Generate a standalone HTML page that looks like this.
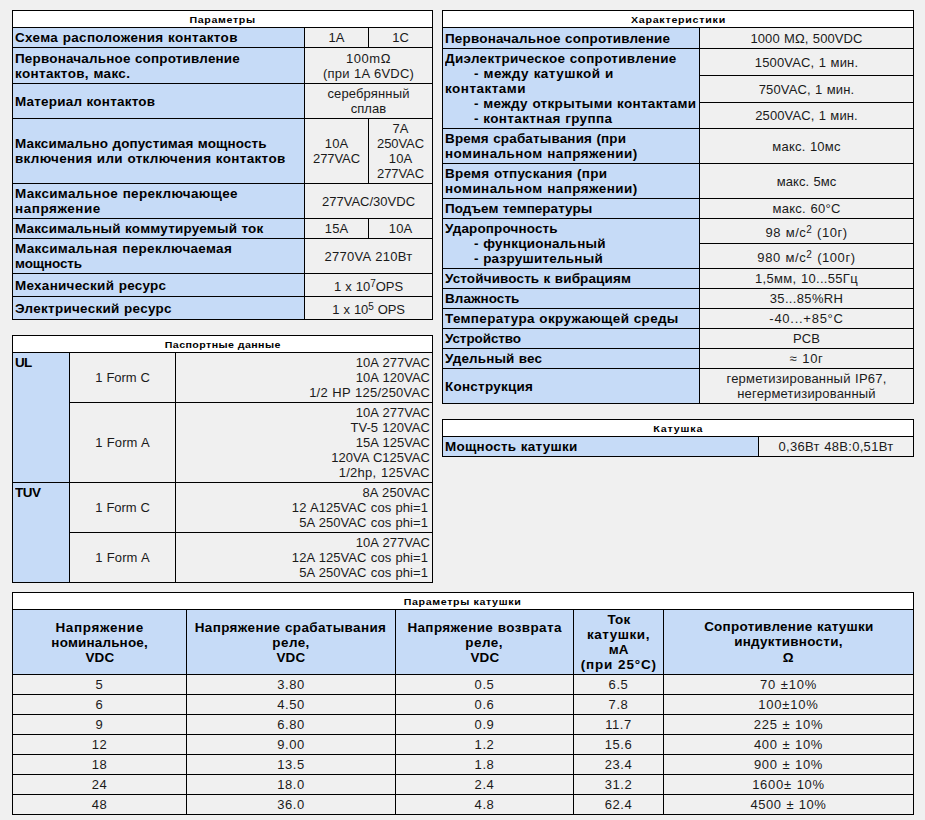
<!DOCTYPE html>
<html lang="ru"><head><meta charset="utf-8"><title>Relay parameters</title>
<style>
html,body{margin:0;padding:0;background:#f0f0f0;}
body{width:925px;height:820px;background:#f0f0f0;position:relative;overflow:hidden;font-family:"Liberation Sans",sans-serif;color:#000;}
.c{position:absolute;}
.t{position:absolute;white-space:pre;height:15px;line-height:15px;font-size:13px;}
.r{letter-spacing:0.25px;word-spacing:0.6px;color:#1a1a1a;}
.b{font-weight:bold;letter-spacing:0.45px;word-spacing:0.4px;}
.h{font-weight:bold;font-size:9.5px;height:12px;line-height:12px;letter-spacing:0.5px;}
 .h span{transform:scaleX(1.12);}
.t span{display:inline-block;}
.b span{transform:scaleX(1.035);}
.al{text-align:left;}.ac{text-align:center;}.ar{text-align:right;}
.al span{transform-origin:0 50%;}.ac span{transform-origin:50% 50%;}.ar span{transform-origin:100% 50%;}
sup{font-size:10px;line-height:0;vertical-align:baseline;position:relative;top:-4px;}
</style></head><body>
<div class="c" style="left:12px;top:10px;width:421px;height:310px;background:#000000"></div>
<div class="c" style="left:13px;top:11px;width:419px;height:16px;background:#ffffff"></div>
<div class="c" style="left:13px;top:28px;width:291px;height:19px;background:#c6dbf7"></div>
<div class="c" style="left:305px;top:28px;width:63px;height:19px;background:#f0f0f0"></div>
<div class="c" style="left:369px;top:28px;width:63px;height:19px;background:#f0f0f0"></div>
<div class="c" style="left:13px;top:48px;width:291px;height:35px;background:#c6dbf7"></div>
<div class="c" style="left:305px;top:48px;width:127px;height:35px;background:#f0f0f0"></div>
<div class="c" style="left:13px;top:84px;width:291px;height:34px;background:#c6dbf7"></div>
<div class="c" style="left:305px;top:84px;width:127px;height:34px;background:#f0f0f0"></div>
<div class="c" style="left:13px;top:119px;width:291px;height:64px;background:#c6dbf7"></div>
<div class="c" style="left:305px;top:119px;width:63px;height:64px;background:#f0f0f0"></div>
<div class="c" style="left:369px;top:119px;width:63px;height:64px;background:#f0f0f0"></div>
<div class="c" style="left:13px;top:184px;width:291px;height:34px;background:#c6dbf7"></div>
<div class="c" style="left:305px;top:184px;width:127px;height:34px;background:#f0f0f0"></div>
<div class="c" style="left:13px;top:219px;width:291px;height:19px;background:#c6dbf7"></div>
<div class="c" style="left:305px;top:219px;width:63px;height:19px;background:#f0f0f0"></div>
<div class="c" style="left:369px;top:219px;width:63px;height:19px;background:#f0f0f0"></div>
<div class="c" style="left:13px;top:239px;width:291px;height:34px;background:#c6dbf7"></div>
<div class="c" style="left:305px;top:239px;width:127px;height:34px;background:#f0f0f0"></div>
<div class="c" style="left:13px;top:274px;width:291px;height:22px;background:#c6dbf7"></div>
<div class="c" style="left:305px;top:274px;width:127px;height:22px;background:#f0f0f0"></div>
<div class="c" style="left:13px;top:297px;width:291px;height:22px;background:#c6dbf7"></div>
<div class="c" style="left:305px;top:297px;width:127px;height:22px;background:#f0f0f0"></div>
<div class="c" style="left:442px;top:10px;width:472px;height:394px;background:#000000"></div>
<div class="c" style="left:443px;top:11px;width:470px;height:16px;background:#ffffff"></div>
<div class="c" style="left:443px;top:28px;width:256px;height:20px;background:#c6dbf7"></div>
<div class="c" style="left:700px;top:28px;width:213px;height:20px;background:#f0f0f0"></div>
<div class="c" style="left:443px;top:49px;width:256px;height:79px;background:#c6dbf7"></div>
<div class="c" style="left:700px;top:49px;width:213px;height:26px;background:#f0f0f0"></div>
<div class="c" style="left:700px;top:76px;width:213px;height:26px;background:#f0f0f0"></div>
<div class="c" style="left:700px;top:103px;width:213px;height:25px;background:#f0f0f0"></div>
<div class="c" style="left:443px;top:129px;width:256px;height:34px;background:#c6dbf7"></div>
<div class="c" style="left:700px;top:129px;width:213px;height:34px;background:#f0f0f0"></div>
<div class="c" style="left:443px;top:164px;width:256px;height:34px;background:#c6dbf7"></div>
<div class="c" style="left:700px;top:164px;width:213px;height:34px;background:#f0f0f0"></div>
<div class="c" style="left:443px;top:199px;width:256px;height:19px;background:#c6dbf7"></div>
<div class="c" style="left:700px;top:199px;width:213px;height:19px;background:#f0f0f0"></div>
<div class="c" style="left:443px;top:219px;width:256px;height:49px;background:#c6dbf7"></div>
<div class="c" style="left:700px;top:219px;width:213px;height:24px;background:#f0f0f0"></div>
<div class="c" style="left:700px;top:244px;width:213px;height:24px;background:#f0f0f0"></div>
<div class="c" style="left:443px;top:269px;width:256px;height:19px;background:#c6dbf7"></div>
<div class="c" style="left:700px;top:269px;width:213px;height:19px;background:#f0f0f0"></div>
<div class="c" style="left:443px;top:289px;width:256px;height:19px;background:#c6dbf7"></div>
<div class="c" style="left:700px;top:289px;width:213px;height:19px;background:#f0f0f0"></div>
<div class="c" style="left:443px;top:309px;width:256px;height:19px;background:#c6dbf7"></div>
<div class="c" style="left:700px;top:309px;width:213px;height:19px;background:#f0f0f0"></div>
<div class="c" style="left:443px;top:329px;width:256px;height:19px;background:#c6dbf7"></div>
<div class="c" style="left:700px;top:329px;width:213px;height:19px;background:#f0f0f0"></div>
<div class="c" style="left:443px;top:349px;width:256px;height:19px;background:#c6dbf7"></div>
<div class="c" style="left:700px;top:349px;width:213px;height:19px;background:#f0f0f0"></div>
<div class="c" style="left:443px;top:369px;width:256px;height:34px;background:#c6dbf7"></div>
<div class="c" style="left:700px;top:369px;width:213px;height:34px;background:#f0f0f0"></div>
<div class="c" style="left:442px;top:419px;width:472px;height:38px;background:#000000"></div>
<div class="c" style="left:443px;top:420px;width:470px;height:16px;background:#ffffff"></div>
<div class="c" style="left:443px;top:437px;width:315px;height:19px;background:#c6dbf7"></div>
<div class="c" style="left:759px;top:437px;width:154px;height:19px;background:#f0f0f0"></div>
<div class="c" style="left:12px;top:335px;width:421px;height:248px;background:#000000"></div>
<div class="c" style="left:13px;top:336px;width:419px;height:16px;background:#ffffff"></div>
<div class="c" style="left:13px;top:353px;width:56px;height:129px;background:#c6dbf7"></div>
<div class="c" style="left:13px;top:483px;width:56px;height:99px;background:#c6dbf7"></div>
<div class="c" style="left:70px;top:353px;width:105px;height:49px;background:#f0f0f0"></div>
<div class="c" style="left:176px;top:353px;width:256px;height:49px;background:#f0f0f0"></div>
<div class="c" style="left:70px;top:403px;width:105px;height:79px;background:#f0f0f0"></div>
<div class="c" style="left:176px;top:403px;width:256px;height:79px;background:#f0f0f0"></div>
<div class="c" style="left:70px;top:483px;width:105px;height:49px;background:#f0f0f0"></div>
<div class="c" style="left:176px;top:483px;width:256px;height:49px;background:#f0f0f0"></div>
<div class="c" style="left:70px;top:533px;width:105px;height:49px;background:#f0f0f0"></div>
<div class="c" style="left:176px;top:533px;width:256px;height:49px;background:#f0f0f0"></div>
<div class="c" style="left:12px;top:592px;width:902px;height:223px;background:#000000"></div>
<div class="c" style="left:13px;top:593px;width:900px;height:16px;background:#ffffff"></div>
<div class="c" style="left:13px;top:610px;width:173px;height:64px;background:#c6dbf7"></div>
<div class="c" style="left:187px;top:610px;width:208px;height:64px;background:#c6dbf7"></div>
<div class="c" style="left:396px;top:610px;width:177px;height:64px;background:#c6dbf7"></div>
<div class="c" style="left:574px;top:610px;width:89px;height:64px;background:#c6dbf7"></div>
<div class="c" style="left:664px;top:610px;width:249px;height:64px;background:#c6dbf7"></div>
<div class="c" style="left:13px;top:675px;width:173px;height:19px;background:#f0f0f0"></div>
<div class="c" style="left:187px;top:675px;width:208px;height:19px;background:#f0f0f0"></div>
<div class="c" style="left:396px;top:675px;width:177px;height:19px;background:#f0f0f0"></div>
<div class="c" style="left:574px;top:675px;width:89px;height:19px;background:#f0f0f0"></div>
<div class="c" style="left:664px;top:675px;width:249px;height:19px;background:#f0f0f0"></div>
<div class="c" style="left:13px;top:695px;width:173px;height:19px;background:#f0f0f0"></div>
<div class="c" style="left:187px;top:695px;width:208px;height:19px;background:#f0f0f0"></div>
<div class="c" style="left:396px;top:695px;width:177px;height:19px;background:#f0f0f0"></div>
<div class="c" style="left:574px;top:695px;width:89px;height:19px;background:#f0f0f0"></div>
<div class="c" style="left:664px;top:695px;width:249px;height:19px;background:#f0f0f0"></div>
<div class="c" style="left:13px;top:715px;width:173px;height:19px;background:#f0f0f0"></div>
<div class="c" style="left:187px;top:715px;width:208px;height:19px;background:#f0f0f0"></div>
<div class="c" style="left:396px;top:715px;width:177px;height:19px;background:#f0f0f0"></div>
<div class="c" style="left:574px;top:715px;width:89px;height:19px;background:#f0f0f0"></div>
<div class="c" style="left:664px;top:715px;width:249px;height:19px;background:#f0f0f0"></div>
<div class="c" style="left:13px;top:735px;width:173px;height:19px;background:#f0f0f0"></div>
<div class="c" style="left:187px;top:735px;width:208px;height:19px;background:#f0f0f0"></div>
<div class="c" style="left:396px;top:735px;width:177px;height:19px;background:#f0f0f0"></div>
<div class="c" style="left:574px;top:735px;width:89px;height:19px;background:#f0f0f0"></div>
<div class="c" style="left:664px;top:735px;width:249px;height:19px;background:#f0f0f0"></div>
<div class="c" style="left:13px;top:755px;width:173px;height:19px;background:#f0f0f0"></div>
<div class="c" style="left:187px;top:755px;width:208px;height:19px;background:#f0f0f0"></div>
<div class="c" style="left:396px;top:755px;width:177px;height:19px;background:#f0f0f0"></div>
<div class="c" style="left:574px;top:755px;width:89px;height:19px;background:#f0f0f0"></div>
<div class="c" style="left:664px;top:755px;width:249px;height:19px;background:#f0f0f0"></div>
<div class="c" style="left:13px;top:775px;width:173px;height:19px;background:#f0f0f0"></div>
<div class="c" style="left:187px;top:775px;width:208px;height:19px;background:#f0f0f0"></div>
<div class="c" style="left:396px;top:775px;width:177px;height:19px;background:#f0f0f0"></div>
<div class="c" style="left:574px;top:775px;width:89px;height:19px;background:#f0f0f0"></div>
<div class="c" style="left:664px;top:775px;width:249px;height:19px;background:#f0f0f0"></div>
<div class="c" style="left:13px;top:795px;width:173px;height:19px;background:#f0f0f0"></div>
<div class="c" style="left:187px;top:795px;width:208px;height:19px;background:#f0f0f0"></div>
<div class="c" style="left:396px;top:795px;width:177px;height:19px;background:#f0f0f0"></div>
<div class="c" style="left:574px;top:795px;width:89px;height:19px;background:#f0f0f0"></div>
<div class="c" style="left:664px;top:795px;width:249px;height:19px;background:#f0f0f0"></div>
<div id="t0" class="t h ac" style="left:15px;top:14px;width:415px;letter-spacing:0.582px;"><span>Параметры</span></div>
<div id="t1" class="t b al" style="left:15px;top:30px;width:287px;letter-spacing:0.335px;"><span>Схема расположения контактов</span></div>
<div id="t2" class="t r ac" style="left:307px;top:30px;width:59px;letter-spacing:0.05px;"><span>1A</span></div>
<div id="t3" class="t r ac" style="left:371px;top:30px;width:59px;letter-spacing:0.05px;"><span>1C</span></div>
<div id="t4" class="t b al" style="left:15px;top:51px;width:287px;letter-spacing:0.184px;"><span>Первоначальное сопротивление</span></div>
<div id="t5" class="t b al" style="left:15px;top:66px;width:287px;letter-spacing:0.346px;"><span>контактов, макс.</span></div>
<div id="t6" class="t r ac" style="left:307px;top:51px;width:123px;letter-spacing:0.530px;"><span>100mΩ</span></div>
<div id="t7" class="t r ac" style="left:307px;top:66px;width:123px;letter-spacing:0.198px;"><span>(при 1A 6VDC)</span></div>
<div id="t8" class="t b al" style="left:15px;top:94px;width:287px;letter-spacing:0.214px;"><span>Материал контактов</span></div>
<div id="t9" class="t r ac" style="left:307px;top:86px;width:123px;letter-spacing:0.138px;"><span>серебрянный</span></div>
<div id="t10" class="t r ac" style="left:307px;top:101px;width:123px;letter-spacing:0.050px;"><span>сплав</span></div>
<div id="t11" class="t b al" style="left:15px;top:136px;width:287px;letter-spacing:0.140px;"><span>Максимально допустимая мощность</span></div>
<div id="t12" class="t b al" style="left:15px;top:151px;width:287px;letter-spacing:0.333px;"><span>включения или отключения контактов</span></div>
<div id="t13" class="t r ac" style="left:307px;top:136px;width:59px;letter-spacing:0.05px;"><span>10A</span></div>
<div id="t14" class="t r ac" style="left:307px;top:151px;width:59px;letter-spacing:-0.102px;"><span>277VAC</span></div>
<div id="t15" class="t r ac" style="left:371px;top:121px;width:59px;letter-spacing:0.05px;"><span>7A</span></div>
<div id="t16" class="t r ac" style="left:371px;top:136px;width:59px;letter-spacing:-0.102px;"><span>250VAC</span></div>
<div id="t17" class="t r ac" style="left:371px;top:151px;width:59px;letter-spacing:0.05px;"><span>10A</span></div>
<div id="t18" class="t r ac" style="left:371px;top:166px;width:59px;letter-spacing:-0.102px;"><span>277VAC</span></div>
<div id="t19" class="t b al" style="left:15px;top:186px;width:287px;letter-spacing:0.328px;"><span>Максимальное переключающее</span></div>
<div id="t20" class="t b al" style="left:15px;top:201px;width:287px;letter-spacing:0.536px;"><span>напряжение</span></div>
<div id="t21" class="t r ac" style="left:307px;top:194px;width:123px;letter-spacing:0.011px;"><span>277VAC/30VDC</span></div>
<div id="t22" class="t b al" style="left:15px;top:221px;width:287px;letter-spacing:0.209px;"><span>Максимальный коммутируемый ток</span></div>
<div id="t23" class="t r ac" style="left:307px;top:221px;width:59px;letter-spacing:0.05px;"><span>15A</span></div>
<div id="t24" class="t r ac" style="left:371px;top:221px;width:59px;letter-spacing:0.05px;"><span>10A</span></div>
<div id="t25" class="t b al" style="left:15px;top:241px;width:287px;letter-spacing:0.328px;"><span>Максимальная переключаемая</span></div>
<div id="t26" class="t b al" style="left:15px;top:256px;width:287px;letter-spacing:-0.102px;"><span>мощность</span></div>
<div id="t27" class="t r ac" style="left:307px;top:249px;width:123px;letter-spacing:0.290px;"><span>2770VA 210Вт</span></div>
<div id="t28" class="t b al" style="left:15px;top:278px;width:287px;letter-spacing:0.278px;"><span>Механический ресурс</span></div>
<div id="t29" class="t r ac" style="left:307px;top:279px;width:123px;letter-spacing:-0.051px;"><span>1 x 10<sup>7</sup>OPS</span></div>
<div id="t30" class="t b al" style="left:15px;top:301px;width:287px;letter-spacing:0.287px;"><span>Электрический ресурс</span></div>
<div id="t31" class="t r ac" style="left:307px;top:302px;width:123px;letter-spacing:-0.118px;"><span>1 x 10<sup>5</sup> OPS</span></div>
<div id="t32" class="t h ac" style="left:445px;top:14px;width:466px;letter-spacing:0.673px;"><span>Характеристики</span></div>
<div id="t33" class="t b al" style="left:445px;top:31px;width:252px;letter-spacing:0.192px;"><span>Первоначальное сопротивление</span></div>
<div id="t34" class="t r ac" style="left:702px;top:31px;width:209px;letter-spacing:0.105px;"><span>1000 MΩ, 500VDC</span></div>
<div id="t35" class="t b al" style="left:445px;top:51px;width:252px;letter-spacing:0.312px;"><span>Диэлектрическое сопротивление</span></div>
<div id="t36" class="t b al" style="left:474px;top:66px;width:223px;letter-spacing:0.468px;"><span>- между катушкой и</span></div>
<div id="t37" class="t b al" style="left:445px;top:81px;width:252px;letter-spacing:0.478px;"><span>контактами</span></div>
<div id="t38" class="t b al" style="left:474px;top:96px;width:223px;letter-spacing:0.317px;"><span>- между открытыми контактами</span></div>
<div id="t39" class="t b al" style="left:474px;top:111px;width:223px;letter-spacing:0.350px;"><span>- контактная группа</span></div>
<div id="t40" class="t r ac" style="left:702px;top:55px;width:209px;letter-spacing:0.167px;"><span>1500VAC, 1 мин.</span></div>
<div id="t41" class="t r ac" style="left:702px;top:82px;width:209px;letter-spacing:0.126px;"><span>750VAC, 1 мин.</span></div>
<div id="t42" class="t r ac" style="left:702px;top:108px;width:209px;letter-spacing:0.110px;"><span>2500VAC, 1 мин.</span></div>
<div id="t43" class="t b al" style="left:445px;top:131px;width:252px;letter-spacing:0.162px;"><span>Время срабатывания (при</span></div>
<div id="t44" class="t b al" style="left:445px;top:146px;width:252px;letter-spacing:0.415px;"><span>номинальном напряжении)</span></div>
<div id="t45" class="t r ac" style="left:702px;top:139px;width:209px;letter-spacing:0.203px;"><span>макс. 10мс</span></div>
<div id="t46" class="t b al" style="left:445px;top:166px;width:252px;letter-spacing:0.283px;"><span>Время отпускания (при</span></div>
<div id="t47" class="t b al" style="left:445px;top:181px;width:252px;letter-spacing:0.415px;"><span>номинальном напряжении)</span></div>
<div id="t48" class="t r ac" style="left:702px;top:174px;width:209px;letter-spacing:0.050px;"><span>макс. 5мс</span></div>
<div id="t49" class="t b al" style="left:445px;top:201px;width:252px;letter-spacing:0.047px;"><span>Подъем температуры</span></div>
<div id="t50" class="t r ac" style="left:702px;top:201px;width:209px;letter-spacing:0.271px;"><span>макс. 60°C</span></div>
<div id="t51" class="t b al" style="left:445px;top:221px;width:252px;letter-spacing:0.153px;"><span>Ударопрочность</span></div>
<div id="t52" class="t b al" style="left:474px;top:236px;width:223px;letter-spacing:0.252px;"><span>- функциональный</span></div>
<div id="t53" class="t b al" style="left:474px;top:251px;width:223px;letter-spacing:0.243px;"><span>- разрушительный</span></div>
<div id="t54" class="t r ac" style="left:702px;top:225px;width:209px;letter-spacing:0.516px;"><span>98 м/с<sup>2</sup> (10г)</span></div>
<div id="t55" class="t r ac" style="left:702px;top:250px;width:209px;letter-spacing:0.562px;"><span>980 м/с<sup>2</sup> (100г)</span></div>
<div id="t56" class="t b al" style="left:445px;top:271px;width:252px;letter-spacing:0.147px;"><span>Устойчивость к вибрациям</span></div>
<div id="t57" class="t r ac" style="left:702px;top:271px;width:209px;letter-spacing:0.303px;"><span>1,5мм, 10...55Гц</span></div>
<div id="t58" class="t b al" style="left:445px;top:291px;width:252px;letter-spacing:0.063px;"><span>Влажность</span></div>
<div id="t59" class="t r ac" style="left:702px;top:291px;width:209px;letter-spacing:0.339px;"><span>35...85%RH</span></div>
<div id="t60" class="t b al" style="left:445px;top:311px;width:252px;letter-spacing:0.335px;"><span>Температура окружающей среды</span></div>
<div id="t61" class="t r ac" style="left:702px;top:311px;width:209px;letter-spacing:0.730px;"><span>-40...+85°C</span></div>
<div id="t62" class="t b al" style="left:445px;top:331px;width:252px;letter-spacing:-0.065px;"><span>Устройство</span></div>
<div id="t63" class="t r ac" style="left:702px;top:331px;width:209px;letter-spacing:0.05px;"><span>PCB</span></div>
<div id="t64" class="t b al" style="left:445px;top:351px;width:252px;letter-spacing:0.155px;"><span>Удельный вес</span></div>
<div id="t65" class="t r ac" style="left:702px;top:351px;width:209px;letter-spacing:0.730px;"><span>≈ 10г</span></div>
<div id="t66" class="t b al" style="left:445px;top:379px;width:252px;letter-spacing:0.252px;"><span>Конструкция</span></div>
<div id="t67" class="t r ac" style="left:702px;top:371px;width:209px;letter-spacing:0.218px;"><span>герметизированный IP67,</span></div>
<div id="t68" class="t r ac" style="left:702px;top:386px;width:209px;letter-spacing:0.197px;"><span>негерметизированный</span></div>
<div id="t69" class="t h ac" style="left:445px;top:423px;width:466px;letter-spacing:0.740px;"><span>Катушка</span></div>
<div id="t70" class="t b al" style="left:445px;top:439px;width:311px;letter-spacing:0.252px;"><span>Мощность катушки</span></div>
<div id="t71" class="t r ac" style="left:761px;top:439px;width:150px;letter-spacing:0.290px;"><span>0,36Вт 48В:0,51Вт</span></div>
<div id="t72" class="t h ac" style="left:15px;top:339px;width:415px;letter-spacing:0.371px;"><span>Паспортные данные</span></div>
<div id="t73" class="t b al" style="left:15px;top:355px;width:52px;letter-spacing:-0.600px;"><span>UL</span></div>
<div id="t74" class="t b al" style="left:15px;top:485px;width:52px;letter-spacing:-0.500px;"><span>TUV</span></div>
<div id="t75" class="t r ac" style="left:72px;top:370px;width:101px;letter-spacing:-0.118px;"><span>1 Form C</span></div>
<div id="t76" class="t r ar" style="left:178px;top:355px;width:252px;letter-spacing:0.017px;"><span>10A 277VAC</span></div>
<div id="t77" class="t r ar" style="left:178px;top:370px;width:252px;letter-spacing:0.017px;"><span>10A 120VAC</span></div>
<div id="t78" class="t r ar" style="left:178px;top:385px;width:252px;letter-spacing:0.220px;"><span>1/2 HP 125/250VAC</span></div>
<div id="t79" class="t r ac" style="left:72px;top:435px;width:101px;letter-spacing:0.088px;"><span>1 Form A</span></div>
<div id="t80" class="t r ar" style="left:178px;top:405px;width:252px;letter-spacing:0.017px;"><span>10A 277VAC</span></div>
<div id="t81" class="t r ar" style="left:178px;top:420px;width:252px;letter-spacing:0.042px;"><span>TV-5 120VAC</span></div>
<div id="t82" class="t r ar" style="left:178px;top:435px;width:252px;letter-spacing:0.017px;"><span>15A 125VAC</span></div>
<div id="t83" class="t r ar" style="left:178px;top:450px;width:252px;letter-spacing:0.035px;"><span>120VA C125VAC</span></div>
<div id="t84" class="t r ar" style="left:178px;top:465px;width:252px;letter-spacing:0.265px;"><span>1/2hp, 125VAC</span></div>
<div id="t85" class="t r ac" style="left:72px;top:500px;width:101px;letter-spacing:-0.118px;"><span>1 Form C</span></div>
<div id="t86" class="t r ar" style="left:178px;top:485px;width:252px;letter-spacing:0.070px;"><span>8A 250VAC</span></div>
<div id="t87" class="t r ar" style="left:176px;top:500px;width:252px;letter-spacing:0.062px;"><span>12 A125VAC cos phi=1</span></div>
<div id="t88" class="t r ar" style="left:176px;top:515px;width:252px;letter-spacing:0.063px;"><span>5A 250VAC cos phi=1</span></div>
<div id="t89" class="t r ac" style="left:72px;top:550px;width:101px;letter-spacing:0.088px;"><span>1 Form A</span></div>
<div id="t90" class="t r ar" style="left:178px;top:535px;width:252px;letter-spacing:0.017px;"><span>10A 277VAC</span></div>
<div id="t91" class="t r ar" style="left:176px;top:550px;width:252px;letter-spacing:0.062px;"><span>12A 125VAC cos phi=1</span></div>
<div id="t92" class="t r ar" style="left:176px;top:565px;width:252px;letter-spacing:0.063px;"><span>5A 250VAC cos phi=1</span></div>
<div id="t93" class="t h ac" style="left:15px;top:596px;width:896px;letter-spacing:0.570px;"><span>Параметры катушки</span></div>
<div id="t94" class="t b ac" style="left:15px;top:620px;width:169px;letter-spacing:0.622px;"><span>Напряжение</span></div>
<div id="t95" class="t b ac" style="left:15px;top:635px;width:169px;letter-spacing:0.169px;"><span>номинальное,</span></div>
<div id="t96" class="t b ac" style="left:15px;top:650px;width:169px;letter-spacing:0.1px;"><span>VDC</span></div>
<div id="t97" class="t b ac" style="left:189px;top:620px;width:204px;letter-spacing:0.359px;"><span>Напряжение срабатывания</span></div>
<div id="t98" class="t b ac" style="left:189px;top:635px;width:204px;letter-spacing:0.408px;"><span>реле,</span></div>
<div id="t99" class="t b ac" style="left:189px;top:650px;width:204px;letter-spacing:0.1px;"><span>VDC</span></div>
<div id="t100" class="t b ac" style="left:398px;top:620px;width:173px;letter-spacing:0.378px;"><span>Напряжение возврата</span></div>
<div id="t101" class="t b ac" style="left:398px;top:635px;width:173px;letter-spacing:0.450px;"><span>реле,</span></div>
<div id="t102" class="t b ac" style="left:398px;top:650px;width:173px;letter-spacing:0.1px;"><span>VDC</span></div>
<div id="t103" class="t b ac" style="left:576px;top:612px;width:85px;letter-spacing:0.1px;"><span>Ток</span></div>
<div id="t104" class="t b ac" style="left:576px;top:627px;width:85px;letter-spacing:0.539px;"><span>катушки,</span></div>
<div id="t105" class="t b ac" style="left:576px;top:642px;width:85px;letter-spacing:0.1px;"><span>мА</span></div>
<div id="t106" class="t b ac" style="left:576px;top:657px;width:85px;letter-spacing:0.794px;"><span>(при 25°C)</span></div>
<div id="t107" class="t b ac" style="left:666px;top:619px;width:245px;letter-spacing:0.260px;"><span>Сопротивление катушки</span></div>
<div id="t108" class="t b ac" style="left:666px;top:634px;width:245px;letter-spacing:0.271px;"><span>индуктивности,</span></div>
<div id="t109" class="t b ac" style="left:666px;top:650px;width:245px;letter-spacing:0.1px;"><span>Ω</span></div>
<div id="t110" class="t r ac" style="left:15px;top:677px;width:169px;letter-spacing:0.6px;"><span>5</span></div>
<div id="t111" class="t r ac" style="left:189px;top:677px;width:204px;letter-spacing:0.6px;"><span>3.80</span></div>
<div id="t112" class="t r ac" style="left:398px;top:677px;width:173px;letter-spacing:0.6px;"><span>0.5</span></div>
<div id="t113" class="t r ac" style="left:576px;top:677px;width:85px;letter-spacing:0.6px;"><span>6.5</span></div>
<div id="t114" class="t r ac" style="left:666px;top:677px;width:245px;letter-spacing:0.753px;"><span>70 ±10%</span></div>
<div id="t115" class="t r ac" style="left:15px;top:697px;width:169px;letter-spacing:0.6px;"><span>6</span></div>
<div id="t116" class="t r ac" style="left:189px;top:697px;width:204px;letter-spacing:0.6px;"><span>4.50</span></div>
<div id="t117" class="t r ac" style="left:398px;top:697px;width:173px;letter-spacing:0.6px;"><span>0.6</span></div>
<div id="t118" class="t r ac" style="left:576px;top:697px;width:85px;letter-spacing:0.6px;"><span>7.8</span></div>
<div id="t119" class="t r ac" style="left:666px;top:697px;width:245px;letter-spacing:0.784px;"><span>100±10%</span></div>
<div id="t120" class="t r ac" style="left:15px;top:717px;width:169px;letter-spacing:0.6px;"><span>9</span></div>
<div id="t121" class="t r ac" style="left:189px;top:717px;width:204px;letter-spacing:0.6px;"><span>6.80</span></div>
<div id="t122" class="t r ac" style="left:398px;top:717px;width:173px;letter-spacing:0.6px;"><span>0.9</span></div>
<div id="t123" class="t r ac" style="left:576px;top:717px;width:85px;letter-spacing:0.6px;"><span>11.7</span></div>
<div id="t124" class="t r ac" style="left:666px;top:717px;width:245px;letter-spacing:0.670px;"><span>225 ± 10%</span></div>
<div id="t125" class="t r ac" style="left:15px;top:737px;width:169px;letter-spacing:0.6px;"><span>12</span></div>
<div id="t126" class="t r ac" style="left:189px;top:737px;width:204px;letter-spacing:0.6px;"><span>9.00</span></div>
<div id="t127" class="t r ac" style="left:398px;top:737px;width:173px;letter-spacing:0.6px;"><span>1.2</span></div>
<div id="t128" class="t r ac" style="left:576px;top:737px;width:85px;letter-spacing:0.6px;"><span>15.6</span></div>
<div id="t129" class="t r ac" style="left:666px;top:737px;width:245px;letter-spacing:0.650px;"><span>400 ± 10%</span></div>
<div id="t130" class="t r ac" style="left:15px;top:757px;width:169px;letter-spacing:0.6px;"><span>18</span></div>
<div id="t131" class="t r ac" style="left:189px;top:757px;width:204px;letter-spacing:0.6px;"><span>13.5</span></div>
<div id="t132" class="t r ac" style="left:398px;top:757px;width:173px;letter-spacing:0.6px;"><span>1.8</span></div>
<div id="t133" class="t r ac" style="left:576px;top:757px;width:85px;letter-spacing:0.6px;"><span>23.4</span></div>
<div id="t134" class="t r ac" style="left:666px;top:757px;width:245px;letter-spacing:0.650px;"><span>900 ± 10%</span></div>
<div id="t135" class="t r ac" style="left:15px;top:777px;width:169px;letter-spacing:0.6px;"><span>24</span></div>
<div id="t136" class="t r ac" style="left:189px;top:777px;width:204px;letter-spacing:0.6px;"><span>18.0</span></div>
<div id="t137" class="t r ac" style="left:398px;top:777px;width:173px;letter-spacing:0.6px;"><span>2.4</span></div>
<div id="t138" class="t r ac" style="left:576px;top:777px;width:85px;letter-spacing:0.6px;"><span>31.2</span></div>
<div id="t139" class="t r ac" style="left:666px;top:777px;width:245px;letter-spacing:0.710px;"><span>1600± 10%</span></div>
<div id="t140" class="t r ac" style="left:15px;top:797px;width:169px;letter-spacing:0.6px;"><span>48</span></div>
<div id="t141" class="t r ac" style="left:189px;top:797px;width:204px;letter-spacing:0.6px;"><span>36.0</span></div>
<div id="t142" class="t r ac" style="left:398px;top:797px;width:173px;letter-spacing:0.6px;"><span>4.8</span></div>
<div id="t143" class="t r ac" style="left:576px;top:797px;width:85px;letter-spacing:0.6px;"><span>62.4</span></div>
<div id="t144" class="t r ac" style="left:666px;top:797px;width:245px;letter-spacing:0.537px;"><span>4500 ± 10%</span></div>
</body></html>
